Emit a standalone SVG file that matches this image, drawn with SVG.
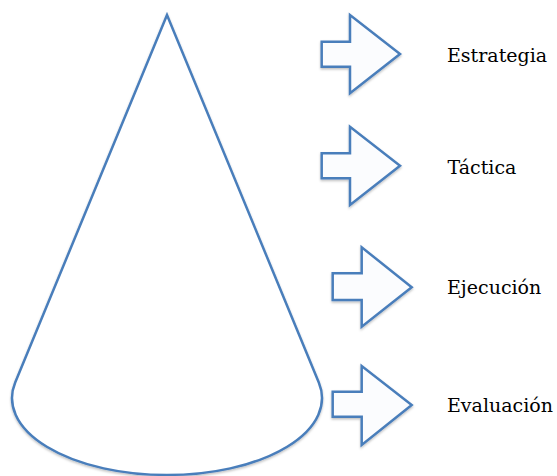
<svg xmlns="http://www.w3.org/2000/svg" width="557" height="476" viewBox="0 0 557 476">
<style>
.shape{fill:#ffffff;stroke:#4a7ebb;stroke-width:2.5;stroke-linejoin:miter}
.arrow{fill:#fbfcfe;stroke:#4a7ebb;stroke-width:2.5;stroke-linejoin:miter}
.lbl{font-family:"DejaVu Serif","Liberation Serif",serif;font-size:19px;fill:#000000}
</style>
<defs>
<filter id="sh" x="-10%" y="-10%" width="120%" height="120%">
<feDropShadow dx="0" dy="1.5" stdDeviation="1.2" flood-color="#000" flood-opacity="0.25"/>
</filter>
</defs>
<rect width="557" height="476" fill="#ffffff"/>
<g id="cone">
<path class="shape" filter="url(#sh)" d="M167 15 L15.2 382.5 A155 77 0 1 0 318.8 382.5 Z"/>
</g>
<g id="connectors">
<path id="arrow-estrategia" class="arrow" filter="url(#sh)" d="M321.7 41.7 H350 V15 L400 54 L350 93.3 V66.7 H321.7 Z"/>
<path id="arrow-tactica" class="arrow" filter="url(#sh)" d="M321.7 153.3 H350 V126.7 L400 165.7 L350 205 V178.3 H321.7 Z"/>
<path id="arrow-ejecucion" class="arrow" filter="url(#sh)" d="M332.7 273.3 H361.7 V247.3 L411.7 287.3 L361.7 326.7 V300 H332.7 Z"/>
<path id="arrow-evaluacion" class="arrow" filter="url(#sh)" d="M332.7 391.7 H361.7 V366 L411.7 405 L361.7 445 V416.7 H332.7 Z"/>
</g>
<g id="estrategia"><text class="lbl" x="447" y="62.3">Estrategia</text></g>
<g id="tactica"><text class="lbl" x="447.5" y="173.5">Táctica</text></g>
<g id="ejecucion"><text class="lbl" x="447" y="293.5">Ejecución</text></g>
<g id="evaluacion"><text class="lbl" x="447" y="411.7">Evaluación</text></g>
</svg>
